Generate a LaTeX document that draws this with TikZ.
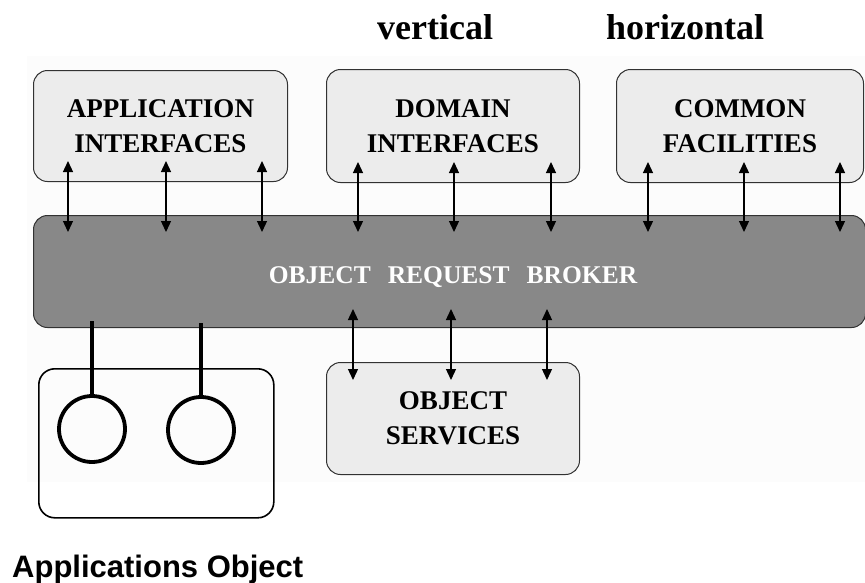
\documentclass[tikz,border=0pt]{standalone}
\usepackage{fontspec}
\setmainfont{Liberation Serif}
\newfontfamily\arialfont{Liberation Sans}
\usetikzlibrary{arrows.meta,calc}
\definecolor{boxfill}{RGB}{236,236,236}
\definecolor{orbfill}{RGB}{136,136,136}
\definecolor{boxline}{RGB}{50,50,50}
\definecolor{bgfaint}{RGB}{252,252,252}
\tikzset{
  lightbox/.style={draw=boxline, fill=boxfill, line width=1pt, rounded corners=14pt,
    anchor=north west, inner sep=0pt, align=center,
    font=\fontsize{27}{35}\selectfont\bfseries},
  orbbox/.style={draw=boxline, fill=orbfill, line width=1pt, rounded corners=14pt,
    anchor=north west, inner sep=0pt},
  dbl/.style={line width=1.3pt, {Triangle[length=11pt,width=10pt]}-{Triangle[length=11pt,width=10pt]}},
  appcircle/.style={circle, draw=black, line width=3.8pt, minimum size=66pt, inner sep=0pt},
  stem/.style={line width=3.4pt},
  title/.style={anchor=base west, inner sep=0pt, font=\fontsize{36}{40}\selectfont\bfseries}
}
\begin{document}
\begin{tikzpicture}[x=1pt,y=-1pt]
\useasboundingbox (0,0) rectangle (865,582);
\fill[bgfaint] (27,56) rectangle (865,482);

\node[title] (vt) at (377,39) {vertical};
\node[title] (hz) at (606,39) {horizontal};

\node[lightbox, minimum width=254pt, minimum height=111pt] (ai) at (33,70) {APPLICATION\\INTERFACES};
\node[lightbox, minimum width=253pt, minimum height=113pt] (dm) at (326,69) {DOMAIN\\INTERFACES};
\node[lightbox, minimum width=247pt, minimum height=113pt] (cf) at (616,69) {COMMON\\FACILITIES};

\node[orbbox, minimum width=832pt, minimum height=112pt] (orb) at (33,215) {};
\node[text=white, font=\fontsize{25.5}{30}\selectfont\bfseries, anchor=base, inner sep=0pt] (orbtext) at (453,283)
  {OBJECT\hspace{17pt}REQUEST\hspace{17pt}BROKER};

\node[lightbox, minimum width=253pt, minimum height=112pt] (os) at (326,362) {OBJECT\\SERVICES};

\foreach \n/\dx in {ai/35, ai/133, ai/229, dm/32, dm/128, dm/225, cf/32, cf/128, cf/224}
  \draw[dbl] ($(\n.south west)+(\dx,-21)$) -- ($(\n.south west |- orb.north)+(\dx,17)$);

\foreach \dx in {27,125,221}
  \draw[dbl] ($(os.north west |- orb.south)+(\dx,-19)$) -- ($(os.north west)+(\dx,18)$);

\node[draw=black, line width=1.6pt, rounded corners=16pt, anchor=north west,
  minimum width=235pt, minimum height=149pt, inner sep=0pt] (ao) at (38,368) {};
\node[appcircle] (c1) at (92,429) {};
\node[appcircle] (c2) at (201,430) {};
\draw[stem] ($(c1.north |- orb.south)+(0,-7)$) -- (c1.north);
\draw[stem] ($(c2.north |- orb.south)+(0,-5)$) -- (c2.north);

\node[anchor=base west, inner sep=0pt, font=\arialfont\fontsize{31}{34}\selectfont\bfseries] (aotext) at (12,577) {Applications Object};
\end{tikzpicture}
\end{document}
